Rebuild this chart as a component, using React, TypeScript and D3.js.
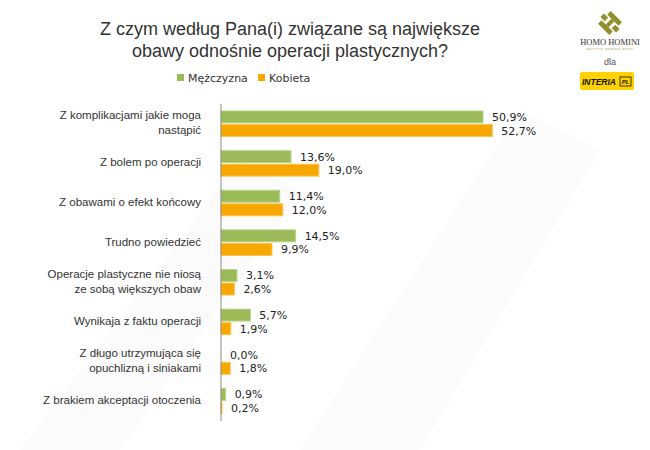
import React, { useEffect, useRef } from 'react';
import * as d3 from 'd3';

// Categories (each label may span two lines)
const categories = [
  ['Z komplikacjami jakie moga', 'nastąpić'],
  ['Z bolem po operacji'],
  ['Z obawami o efekt końcowy'],
  ['Trudno powiedzieć'],
  ['Operacje plastyczne nie niosą', 'ze sobą większych obaw'],
  ['Wynikaja z faktu operacji'],
  ['Z długo utrzymująca się', 'opuchlizną i siniakami'],
  ['Z brakiem akceptacji otoczenia'],
];

const seriesNames = ['Mężczyzna', 'Kobieta'];
const seriesColors = ['#9bbb59', '#f7a800'];
const seriesStroke = ['#b9d388', '#fbc24d'];

const menValues = [50.9, 13.6, 11.4, 14.5, 3.1, 5.7, 0.0, 0.9];
const womenValues = [52.7, 19.0, 12.0, 9.9, 2.6, 1.9, 1.8, 0.2];

const App = () => {
  const ref = useRef<SVGSVGElement | null>(null);

  useEffect(() => {
    const svg = d3.select(ref.current);
    svg.selectAll('*').remove();

    // very faint watermark shapes in the background
    const bg = svg.append('g').attr('fill', '#fbfbfb');
    bg.append('path').attr('d', 'M300,450 L520,110 L600,150 L420,450 Z');
    bg.append('path').attr('d', 'M20,450 L240,160 L300,190 L120,450 Z');

    // Title
    const title = svg.append('g')
      .attr('font-family', '"Liberation Sans", Arial, sans-serif')
      .attr('font-size', 18)
      .attr('fill', '#333')
      .attr('text-anchor', 'middle');
    title.append('text').attr('x', 290).attr('y', 35).text('Z czym według Pana(i) związane są największe');
    title.append('text').attr('x', 290).attr('y', 57).text('obawy odnośnie operacji plastycznych?');

    // Legend
    const legend = svg.append('g')
      .attr('font-family', '"DejaVu Sans", Verdana, sans-serif')
      .attr('font-size', 11)
      .attr('fill', '#333');
    const legendX = [177, 258];
    seriesNames.forEach((name, i) => {
      legend.append('rect')
        .attr('x', legendX[i]).attr('y', 74).attr('width', 7).attr('height', 7)
        .attr('fill', seriesColors[i]);
      legend.append('text')
        .attr('x', legendX[i] + 11).attr('y', 82).text(name);
    });

    // Scales
    const x = d3.scaleLinear().domain([0, 50.9]).range([221, 483]);
    const y = d3.scaleBand<number>()
      .domain(d3.range(categories.length))
      .range([104, 421])
      .padding(0);
    const inner = d3.scaleBand<number>()
      .domain([0, 1])
      .range([7, 32.5])
      .paddingInner(0.12);

    const data = categories.map((c, i) => ({ label: c, values: [menValues[i], womenValues[i]] }));

    const groups = svg.append('g').selectAll('g')
      .data(data)
      .enter()
      .append('g')
      .attr('transform', (d, i) => `translate(0,${y(i)})`);

    // bars
    groups.selectAll('rect')
      .data(d => d.values)
      .enter()
      .append('rect')
      .attr('x', x(0))
      .attr('y', (d, j) => inner(j)!)
      .attr('width', d => x(d) - x(0))
      .attr('height', inner.bandwidth())
      .attr('fill', (d, j) => seriesColors[j])
      .attr('stroke', (d, j) => (d > 0 ? seriesStroke[j] : 'none'))
      .attr('stroke-width', 1);

    // value labels
    groups.selectAll('text.val')
      .data(d => d.values)
      .enter()
      .append('text')
      .attr('class', 'val')
      .attr('x', d => x(d) + 9)
      .attr('y', (d, j) => inner(j)! + inner.bandwidth() / 2 + 4)
      .attr('font-family', '"DejaVu Sans", Verdana, sans-serif')
      .attr('font-size', 11)
      .attr('fill', '#222')
      .text(d => d.toFixed(1).replace('.', ',') + '%');

    // category labels
    groups.append('text')
      .attr('text-anchor', 'end')
      .attr('font-family', '"Liberation Sans", Arial, sans-serif')
      .attr('font-size', 11.5)
      .attr('fill', '#333')
      .each(function (d) {
        const t = d3.select(this);
        const n = d.label.length;
        d.label.forEach((line, k) => {
          t.append('tspan')
            .attr('x', 201)
            .attr('y', y.bandwidth() / 2 + 4 + (k - (n - 1) / 2) * 15 - 1)
            .text(line);
        });
      });

    // axis line
    svg.append('line')
      .attr('x1', x(0)).attr('x2', x(0))
      .attr('y1', 104).attr('y2', 421)
      .attr('stroke', '#8a8a8a')
      .attr('stroke-width', 1);

    // logos (top right)
    const logo = svg.append('g');
    const icon = logo.append('g')
      .attr('transform', 'translate(610,23) rotate(-45)')
      .attr('fill', '#948d2c');
    icon.append('rect').attr('x', -9).attr('y', -8).attr('width', 5).attr('height', 16);
    icon.append('rect').attr('x', 4).attr('y', -8).attr('width', 5).attr('height', 16);
    icon.append('rect').attr('x', -4).attr('y', -2).attr('width', 8).attr('height', 4);
    icon.append('rect').attr('x', -2.5).attr('y', -11).attr('width', 5).attr('height', 6);
    icon.append('rect').attr('x', -2.5).attr('y', 5).attr('width', 5).attr('height', 6);
    logo.append('text')
      .attr('x', 610).attr('y', 45)
      .attr('text-anchor', 'middle')
      .attr('font-family', '"Liberation Serif", "Times New Roman", serif')
      .attr('font-size', 8.5)
      .attr('fill', '#333')
      .text('HOMO HOMINI');
    logo.append('text')
      .attr('x', 610).attr('y', 50)
      .attr('text-anchor', 'middle')
      .attr('font-family', '"DejaVu Sans", sans-serif')
      .attr('font-size', 2.6)
      .attr('letter-spacing', 0.6)
      .attr('fill', '#948d2c')
      .text('INSTYTUT BADANIA OPINII');
    logo.append('text')
      .attr('x', 610).attr('y', 65)
      .attr('text-anchor', 'middle')
      .attr('font-family', '"Liberation Sans", Arial, sans-serif')
      .attr('font-size', 9)
      .attr('fill', '#555')
      .text('dla');
    logo.append('rect')
      .attr('x', 580).attr('y', 72).attr('width', 54).attr('height', 18).attr('rx', 2)
      .attr('fill', '#ffd200');
    logo.append('text')
      .attr('x', 582).attr('y', 85)
      .attr('font-family', '"Liberation Sans", Arial, sans-serif')
      .attr('font-size', 8.5)
      .attr('font-weight', 'bold')
      .attr('font-style', 'italic')
      .attr('fill', '#111')
      .text('INTERIA');
    logo.append('rect')
      .attr('x', 620).attr('y', 77).attr('width', 11).attr('height', 9)
      .attr('fill', 'none').attr('stroke', '#111').attr('stroke-width', 0.8);
    logo.append('text')
      .attr('x', 625.5).attr('y', 84)
      .attr('text-anchor', 'middle')
      .attr('font-family', '"Liberation Sans", Arial, sans-serif')
      .attr('font-size', 6)
      .attr('font-weight', 'bold')
      .attr('font-style', 'italic')
      .attr('fill', '#111')
      .text('PL');
  }, []);

  return (
    <div style={{ position: 'absolute', left: 0, top: 0 }}>
      <svg ref={ref} width={650} height={450} style={{ display: 'block', background: '#fff' }} />
    </div>
  );
};

export default App;
